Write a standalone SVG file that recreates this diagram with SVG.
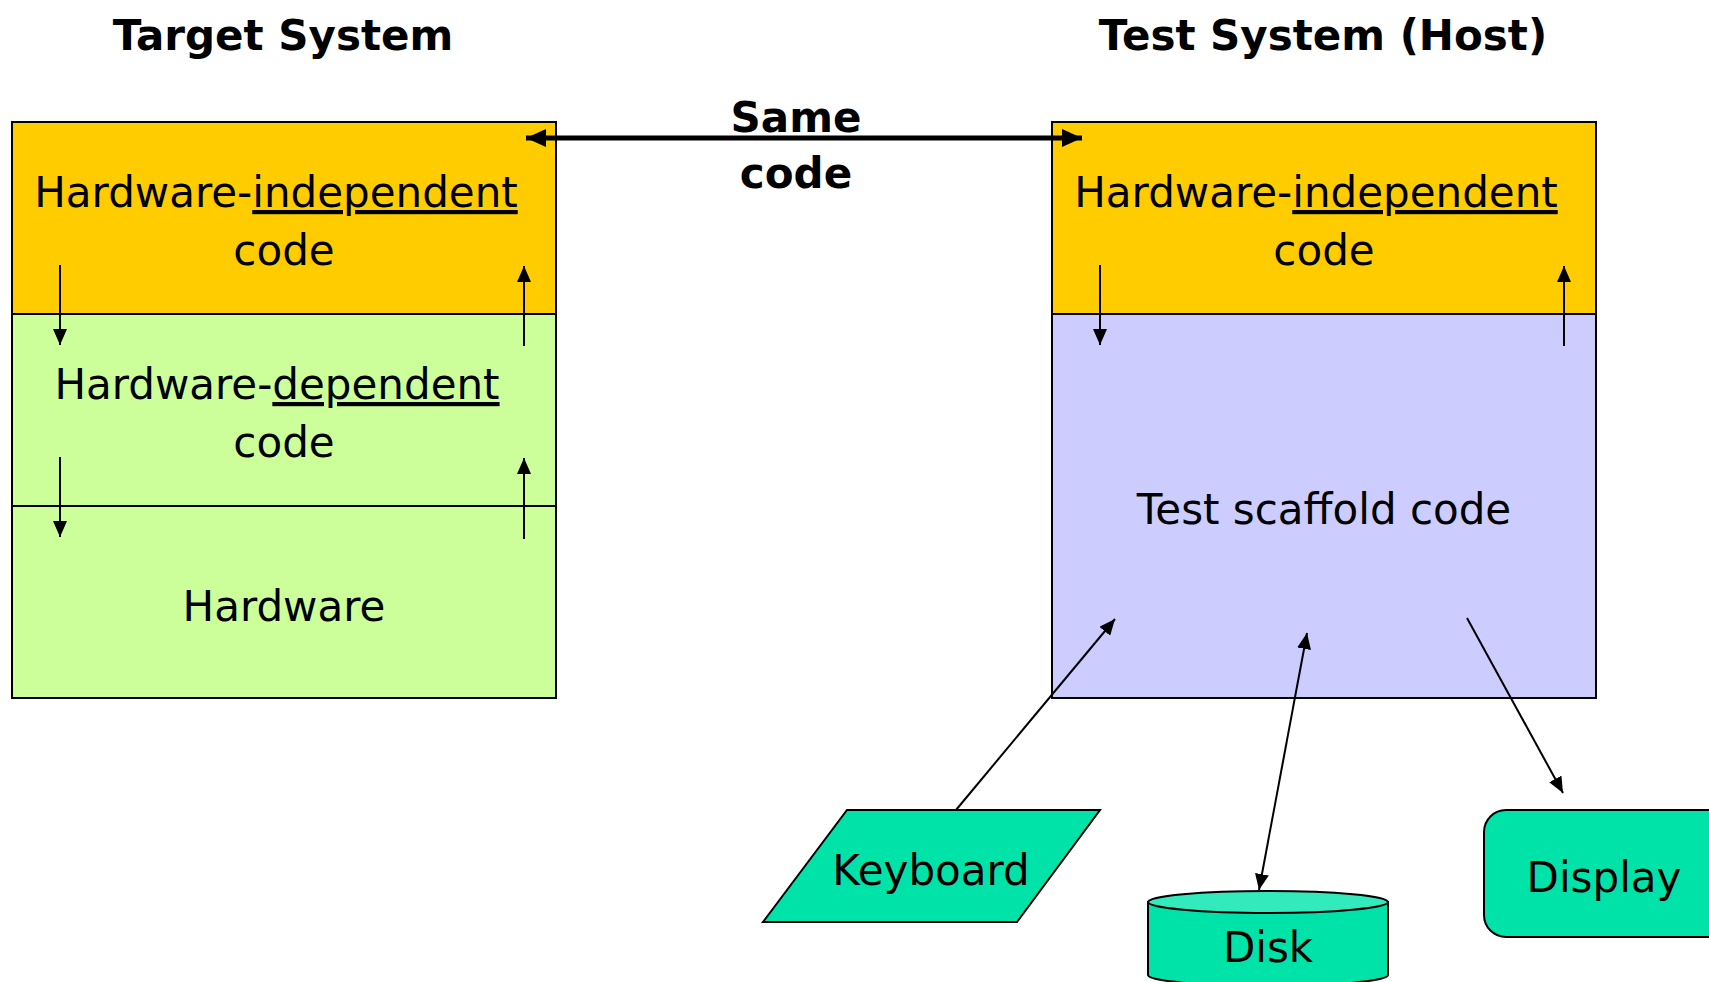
<svg xmlns="http://www.w3.org/2000/svg" width="1709" height="982" viewBox="0 0 1709 982">
<style>
.title{font-family:"DejaVu Sans",Verdana,sans-serif;font-weight:bold;font-size:42px;fill:#000}
.lbl{font-family:"DejaVu Sans",Verdana,sans-serif;font-size:42px;fill:#000}
.box{stroke:#000;stroke-width:2}
.conn{stroke:#000;stroke-width:2;fill:none}
.u{text-decoration:underline}
</style>
<defs>
<marker id="ah" markerUnits="userSpaceOnUse" markerWidth="16" markerHeight="14" refX="16" refY="7" orient="auto-start-reverse">
<path d="M0,0 L16,7 L0,14 z" fill="#000"/>
</marker>
<marker id="ahb" markerUnits="userSpaceOnUse" markerWidth="20" markerHeight="18" refX="20" refY="9" orient="auto-start-reverse">
<path d="M0,0 L20,9 L0,18 z" fill="#000"/>
</marker>
</defs>
<rect width="1709" height="982" fill="#fff"/>

<text class="title" x="283" y="50" text-anchor="middle">Target System</text>
<text class="title" x="1323" y="50" text-anchor="middle">Test System (Host)</text>

<g id="target-system">
<rect x="12" y="122" width="544" height="192" fill="#FFCC00" class="box"/>
<rect x="12" y="314" width="544" height="384" fill="#CCFF99" class="box"/>
<line x1="12" y1="506" x2="556" y2="506" class="box"/>
</g>
<g id="target-hw-independent">
<text class="lbl" x="276" y="207" text-anchor="middle">Hardware-<tspan class="u">independent</tspan></text>
<text class="lbl" x="284" y="265" text-anchor="middle">code</text>
</g>
<g id="target-hw-dependent">
<text class="lbl" x="277" y="399" text-anchor="middle">Hardware-<tspan class="u">dependent</tspan></text>
<text class="lbl" x="284" y="457" text-anchor="middle">code</text>
</g>
<g id="target-hardware">
<text class="lbl" x="284" y="621" text-anchor="middle">Hardware</text>
</g>

<g id="host-system">
<rect x="1052" y="122" width="544" height="192" fill="#FFCC00" class="box"/>
<rect x="1052" y="314" width="544" height="384" fill="#CCCCFF" class="box"/>
</g>
<g id="host-hw-independent">
<text class="lbl" x="1316" y="207" text-anchor="middle">Hardware-<tspan class="u">independent</tspan></text>
<text class="lbl" x="1324" y="265" text-anchor="middle">code</text>
</g>
<g id="test-scaffold">
<text class="lbl" x="1324" y="524" text-anchor="middle">Test scaffold code</text>
</g>

<g id="keyboard">
<polygon points="847,810 1100,810 1017,922 763,922" fill="#00E3A8" class="box"/>
<text class="lbl" x="931" y="885" text-anchor="middle">Keyboard</text>
</g>
<g id="disk">
<path d="M1148,902 L1148,975 A120,11 0 0 0 1388,975 L1388,902 z" fill="#00E3A8" class="box"/>
<ellipse cx="1268" cy="902" rx="120" ry="11" fill="#33EABC" class="box"/>
<text class="lbl" x="1268" y="962" text-anchor="middle">Disk</text>
</g>
<g id="display">
<rect x="1484" y="810" width="250" height="127" rx="22" fill="#00E3A8" class="box"/>
<text class="lbl" x="1604" y="892" text-anchor="middle">Display</text>
</g>

<g id="connectors">
<line x1="526" y1="138" x2="1082" y2="138" stroke="#000" stroke-width="5" marker-start="url(#ahb)" marker-end="url(#ahb)"/>
<text class="title" x="796" y="132" text-anchor="middle">Same</text>
<text class="title" x="796" y="188" text-anchor="middle">code</text>

<line x1="60" y1="265" x2="60" y2="345" class="conn" marker-end="url(#ah)"/>
<line x1="524" y1="346" x2="524" y2="266" class="conn" marker-end="url(#ah)"/>
<line x1="60" y1="457" x2="60" y2="537" class="conn" marker-end="url(#ah)"/>
<line x1="524" y1="539" x2="524" y2="458" class="conn" marker-end="url(#ah)"/>

<line x1="1100" y1="265" x2="1100" y2="345" class="conn" marker-end="url(#ah)"/>
<line x1="1564" y1="346" x2="1564" y2="266" class="conn" marker-end="url(#ah)"/>

<line x1="956" y1="810" x2="1115" y2="619" class="conn" marker-end="url(#ah)"/>
<line x1="1307" y1="633" x2="1259" y2="890" class="conn" marker-start="url(#ah)" marker-end="url(#ah)"/>
<line x1="1467" y1="618" x2="1563" y2="793" class="conn" marker-end="url(#ah)"/>
</g>
</svg>
